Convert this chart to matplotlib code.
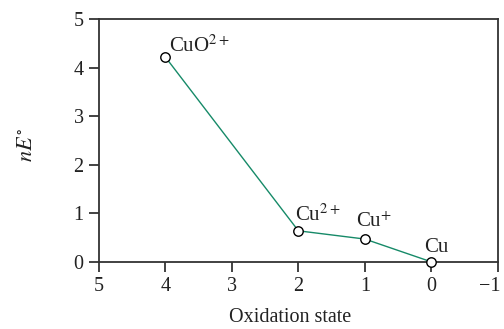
import matplotlib
matplotlib.use("Agg")
import matplotlib.pyplot as plt
from matplotlib.transforms import ScaledTranslation

ox_states = [4, 2, 1, 0]
nE = [4.22, 0.64, 0.47, 0.0]
species = [r"CuO$^{2+}$", r"Cu$^{2+}$", r"Cu$^{+}$", "Cu"]
xticks = [5, 4, 3, 2, 1, 0, -1]
xticklabels = ["5", "4", "3", "2", "1", "0", "\u22121"]
yticks = [0, 1, 2, 3, 4, 5]

plt.rcParams['font.family'] = ['Liberation Serif', 'DejaVu Serif']
plt.rcParams['mathtext.fontset'] = 'stix'

fig = plt.figure(figsize=(5.04, 3.29), dpi=100)
ax = fig.add_axes([0.196, 0.204, 0.792, 0.738])

ax.plot(ox_states, nE, color='#168a68', lw=1.0, zorder=2)
ax.plot(ox_states, nE, 'o', ms=6.8, mfc='white', mec='black', mew=1.0, zorder=3,
        clip_on=False)

offsets = [(2.9, 3.6), (-2.2, 7.2), (-6.5, 8.6), (-5.0, 7.2)]
for x, y, s, (dx, dy) in zip(ox_states, nE, species, offsets):
    ax.annotate(s, (x, y), xytext=(dx, dy), textcoords='offset points',
                fontsize=15, ha='left', va='baseline', color='#222222')

ax.set_xlim(5, -1)
ax.set_ylim(0, 5)
ax.set_xticks(xticks)
ax.set_xticklabels(xticklabels)
ax.set_yticks(yticks)
ax.tick_params(direction='out', length=7, width=1.2, labelsize=14.5, colors='#222222', pad=4)
for sp in ax.spines.values():
    sp.set_linewidth(1.3)
    sp.set_color('#333333')

last = ax.get_xticklabels()[-1]
last.set_transform(last.get_transform() + ScaledTranslation(-6 / 72, 0, fig.dpi_scale_trans))

ax.set_xlabel("Oxidation state", fontsize=14.5, color='#222222')
ax.xaxis.set_label_coords(0.48, -0.19)
ax.set_ylabel(r"$nE^{\circ}$", fontsize=16, color='#222222')
ax.yaxis.set_label_coords(-0.155, 0.48)

fig.savefig("out.png", dpi=100)
